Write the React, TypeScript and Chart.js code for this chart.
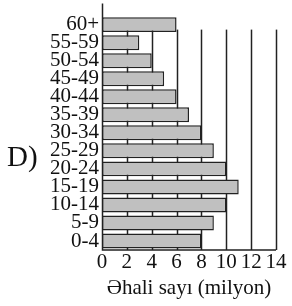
import React, { useEffect, useRef } from "react";
import { Chart, registerables } from "chart.js";

Chart.register(...registerables);

const categories = ["60+", "55-59", "50-54", "45-49", "40-44", "35-39", "30-34", "25-29", "20-24", "15-19", "10-14", "5-9", "0-4"];
const population = [6, 3, 4, 5, 6, 7, 8, 9, 10, 11, 10, 9, 8];
const xTicks = [0, 2, 4, 6, 8, 10, 12, 14];
const xTitle = "Əhali sayı (milyon)";
const panelLabel = "D)";

const FONT = "'Liberation Serif', serif";

const gridPlugin = {
  id: "customGrid",
  beforeDatasetsDraw(chart: any) {
    const { ctx, chartArea, scales } = chart;
    const x = scales.x;
    ctx.save();
    ctx.strokeStyle = "#222";
    ctx.lineWidth = 1.5;
    for (const v of xTicks) {
      if (v === 0) continue;
      const px = Math.round(x.getPixelForValue(v)) + 0.5;
      ctx.beginPath();
      ctx.moveTo(px, chartArea.top + 14);
      ctx.lineTo(px, chartArea.bottom);
      ctx.stroke();
    }
    ctx.restore();
  },
  afterDatasetsDraw(chart: any) {
    const { ctx, chartArea, scales } = chart;
    const x = scales.x;
    const x0 = Math.round(x.getPixelForValue(0)) + 0.5;
    ctx.save();
    ctx.strokeStyle = "#222";
    ctx.lineWidth = 1.5;
    ctx.beginPath();
    ctx.moveTo(x0, chartArea.top - 12);
    ctx.lineTo(x0, chartArea.bottom);
    ctx.lineTo(x.getPixelForValue(14), chartArea.bottom);
    ctx.stroke();
    ctx.fillStyle = "#111";
    ctx.font = `29px ${FONT}`;
    ctx.textBaseline = "alphabetic";
    ctx.textAlign = "left";
    ctx.fillText(panelLabel, 7, 166);
    ctx.restore();
  },
};

export default function App() {
  const ref = useRef<HTMLCanvasElement>(null);
  useEffect(() => {
    let chart: Chart | null = null;
    let cancelled = false;
    const build = () => {
      if (cancelled || !ref.current) return;
      chart = new Chart(ref.current, {
        type: "bar",
        data: {
          labels: categories,
          datasets: [
            {
              data: population,
              backgroundColor: "#c0c0c0",
              borderColor: "#222",
              borderWidth: 1.5,
              borderSkipped: false,
              barPercentage: 0.83,
              categoryPercentage: 1,
            },
          ],
        },
        options: {
          indexAxis: "y",
          animation: false,
          responsive: false,
          maintainAspectRatio: false,
          layout: { padding: { top: 15, right: 16, left: 0, bottom: 0 } },
          plugins: { legend: { display: false }, tooltip: { enabled: false } },
          scales: {
            x: {
              min: 0,
              max: 14,
              grid: { display: false, drawTicks: false },
              border: { display: false },
              afterFit: (s: any) => {
                s.height = 56;
              },
              afterBuildTicks: (s: any) => {
                s.ticks = xTicks.map((v) => ({ value: v }));
              },
              ticks: {
                color: "#111",
                font: { family: FONT, size: 21 },
                padding: 0,
                maxRotation: 0,
                autoSkip: false,
              },
              title: {
                display: true,
                text: xTitle,
                color: "#111",
                font: { family: FONT, size: 21 },
                padding: { top: 0, bottom: 5 },
              },
            },
            y: {
              grid: { display: false, drawTicks: false },
              border: { display: false },
              afterFit: (s: any) => {
                s.width = 102;
              },
              ticks: {
                color: "#111",
                font: { family: FONT, size: 21 },
                padding: 3,
                autoSkip: false,
              },
            },
          },
        },
        plugins: [gridPlugin],
      });
    };
    const fonts: any = (document as any).fonts;
    if (fonts && fonts.load) {
      Promise.all([fonts.load(`21px "Liberation Serif"`), fonts.load(`29px "Liberation Serif"`)])
        .catch(() => null)
        .then(build);
    } else {
      build();
    }
    return () => {
      cancelled = true;
      if (chart) chart.destroy();
    };
  }, []);
  return (
    <div style={{ position: "fixed", left: 0, top: 0, width: 292, height: 306, background: "#fff" }}>
      <canvas ref={ref} width={292} height={306} style={{ width: 292, height: 306 }} />
    </div>
  );
}
